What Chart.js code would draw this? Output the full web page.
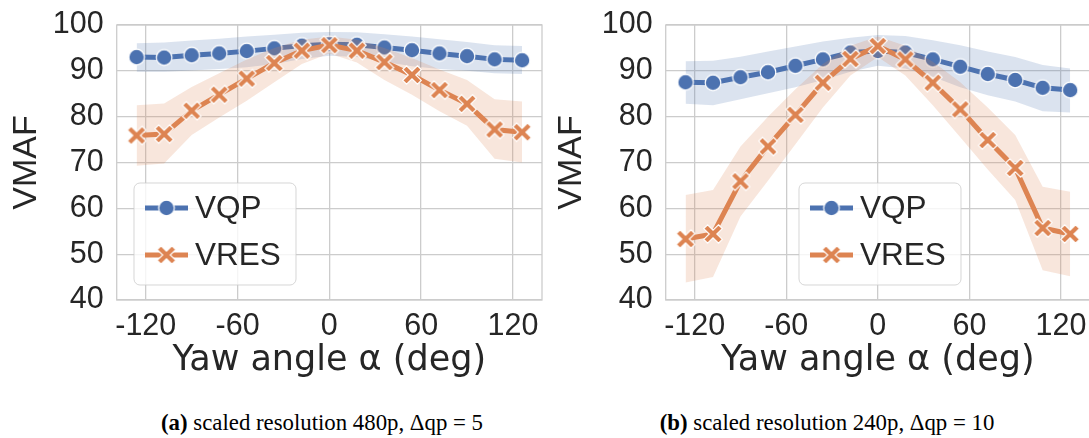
<!DOCTYPE html>
<html>
<head>
<meta charset="utf-8">
<script src="https://cdn.jsdelivr.net/npm/chart.js@4.4.0/dist/chart.umd.min.js"></script>
<style>
  html, body { margin: 0; padding: 0; background: #fff; overflow: hidden; }
  #wrap { position: relative; width: 1089px; height: 438px; overflow: hidden; }
  .panel { position: absolute; top: 0; }
  .cap { position: absolute; top: 410px; font-family: "Liberation Serif", "DejaVu Serif", serif;
         font-size: 22.8px; color: #000; white-space: nowrap; transform: translateX(-50%); }
  .cap b { font-weight: bold; }
</style>
</head>
<body>
<div id="wrap">
  <canvas id="chartA" class="panel" width="556" height="400" style="left:0px"></canvas>
  <canvas id="chartB" class="panel" width="559" height="400" style="left:545px"></canvas>
  <div class="cap" style="left:322px"><b>(a)</b> scaled resolution 480p, Δqp = 5</div>
  <div class="cap" style="left:827px"><b>(b)</b> scaled resolution 240p, Δqp = 10</div>
</div>
<script>
// yaw angles (deg)
const yaw = [-126, -108, -90, -72, -54, -36, -18, 0, 18, 36, 54, 72, 90, 108, 126];
const xTicks = [-120, -60, 0, 60, 120];
const yTicks = [40, 50, 60, 70, 80, 90, 100];

// (a) 480p, dqp = 5
const vqpA      = [93.0, 92.9, 93.4, 93.8, 94.3, 94.9, 95.5, 95.8, 95.7, 95.1, 94.5, 93.8, 93.2, 92.5, 92.3];
const vqpALow   = [89.8, 89.8, 90.1, 90.4, 90.8, 91.5, 92.6, 93.3, 93.0, 92.0, 91.0, 90.4, 90.0, 89.5, 89.3];
const vqpAHigh  = [96.0, 96.2, 96.6, 97.0, 97.5, 97.9, 98.3, 98.5, 98.4, 98.0, 97.5, 96.9, 96.3, 95.6, 95.4];
const vresA     = [75.9, 76.2, 81.3, 84.8, 88.3, 91.7, 94.4, 95.6, 94.4, 91.9, 89.1, 85.8, 82.8, 77.2, 76.6];
const vresALow  = [69.3, 69.8, 76.0, 79.8, 83.5, 87.5, 91.5, 93.8, 91.8, 88.0, 84.8, 81.2, 78.0, 70.8, 70.0];
const vresAHigh = [82.5, 82.9, 86.5, 89.5, 92.5, 95.0, 96.8, 97.5, 96.8, 95.0, 92.8, 90.3, 88.0, 83.8, 83.3];

// (b) 240p, dqp = 10
const vqpB      = [87.5, 87.4, 88.6, 89.7, 91.1, 92.5, 94.0, 94.3, 94.0, 92.5, 90.9, 89.3, 88.0, 86.3, 85.8];
const vqpBLow   = [82.8, 82.5, 83.8, 85.1, 86.4, 88.0, 89.8, 91.1, 90.5, 88.7, 86.4, 84.7, 83.3, 81.2, 80.9];
const vqpBHigh  = [92.1, 92.2, 93.1, 94.2, 95.3, 96.4, 97.2, 97.8, 97.6, 96.7, 95.6, 94.2, 93.0, 91.3, 90.5];
const vresB     = [53.3, 54.4, 65.9, 73.5, 80.4, 87.4, 92.6, 95.4, 92.5, 87.4, 81.6, 74.9, 68.8, 55.7, 54.4];
const vresBLow  = [43.8, 45.0, 58.2, 66.0, 74.0, 82.0, 89.0, 93.0, 89.0, 82.5, 75.5, 68.5, 61.8, 46.5, 45.2];
const vresBHigh = [62.9, 64.0, 73.5, 80.0, 86.0, 91.5, 95.5, 97.5, 95.5, 92.0, 87.5, 82.0, 76.0, 64.7, 63.6];

const BLUE = "#4C72B0";
const ORANGE = "#DD8452";
const INK = "#262626";
const GRID = "#cccccc";
const CLEAR = "rgba(0,0,0,0)";

// marker images, white edged like seaborn
function circleMarker(color) {
  const c = document.createElement("canvas");
  c.width = 20; c.height = 20;
  const g = c.getContext("2d");
  g.beginPath();
  g.arc(10, 10, 7.8, 0, Math.PI * 2);
  g.fillStyle = color; g.fill();
  g.lineWidth = 1.2; g.strokeStyle = "#fff"; g.stroke();
  return c;
}
function xMarker(color) {
  const c = document.createElement("canvas");
  c.width = 22; c.height = 22;
  const g = c.getContext("2d");
  const w = 2.7; // half arm width
  const r = 10.4; // arm reach
  g.translate(11, 11);
  g.rotate(Math.PI / 4);
  g.beginPath();
  g.moveTo(-w, -r); g.lineTo(w, -r); g.lineTo(w, -w); g.lineTo(r, -w); g.lineTo(r, w);
  g.lineTo(w, w); g.lineTo(w, r); g.lineTo(-w, r); g.lineTo(-w, w); g.lineTo(-r, w);
  g.lineTo(-r, -w); g.lineTo(-w, -w); g.closePath();
  g.fillStyle = color; g.fill();
  g.lineWidth = 1.2; g.strokeStyle = "#fff"; g.stroke();
  return c;
}
const dotBlue = circleMarker(BLUE);
const crossOrange = xMarker(ORANGE);

const pts = (arr) => arr.map((v, i) => ({ x: yaw[i], y: v }));

// frame + legend drawn inside the plot area
const framePlugin = {
  id: "frame",
  afterDraw(chart, args, opts) {
    const { ctx, chartArea: a } = chart;
    ctx.save();
    ctx.strokeStyle = GRID;
    ctx.lineWidth = 1.3;
    ctx.strokeRect(a.left, a.top, a.right - a.left, a.bottom - a.top);

    // legend box
    const bx = opts.legendX, by = 183, bw = 162, bh = 102, r = 6;
    ctx.beginPath();
    ctx.roundRect(bx, by, bw, bh, r);
    ctx.fillStyle = "rgba(255,255,255,0.8)";
    ctx.fill();
    ctx.strokeStyle = "rgba(204,204,204,0.8)";
    ctx.lineWidth = 1;
    ctx.stroke();

    const rows = [
      { label: "VQP", color: BLUE, img: dotBlue, y: by + 25 },
      { label: "VRES", color: ORANGE, img: crossOrange, y: by + 72 }
    ];
    rows.forEach((row) => {
      ctx.beginPath();
      ctx.moveTo(bx + 11, row.y);
      ctx.lineTo(bx + 54, row.y);
      ctx.strokeStyle = row.color;
      ctx.lineWidth = 5;
      ctx.stroke();
      ctx.drawImage(row.img, bx + 32.5 - row.img.width / 2, row.y - row.img.height / 2);
      ctx.fillStyle = INK;
      ctx.font = "31.5px 'Liberation Sans', Arial, sans-serif";
      ctx.textBaseline = "middle";
      ctx.textAlign = "left";
      ctx.fillText(row.label, bx + 61, row.y + 1);
    });
    ctx.restore();
  }
};

function makeChart(id, d, yAxisWidth, rightPad, legendX) {
  const datasets = [
    { data: pts(d.vresLow), borderWidth: 0, pointRadius: 0, fill: false, order: 5 },
    { data: pts(d.vresHigh), borderWidth: 0, pointRadius: 0, fill: "-1",
      backgroundColor: "rgba(221,132,82,0.2)", order: 1 },
    { label: "VRES", data: pts(d.vres), borderColor: ORANGE, borderWidth: 5,
      pointStyle: crossOrange, pointRadius: 9, fill: false, order: 0 },
    { data: pts(d.vqpLow), borderWidth: 0, pointRadius: 0, fill: false, order: 5 },
    { data: pts(d.vqpHigh), borderWidth: 0, pointRadius: 0, fill: "-1",
      backgroundColor: "rgba(76,114,176,0.2)", order: 3 },
    { label: "VQP", data: pts(d.vqp), borderColor: BLUE, borderWidth: 5,
      pointStyle: dotBlue, pointRadius: 9, fill: false, order: 2 }
  ];

  return new Chart(document.getElementById(id).getContext("2d"), {
    type: "line",
    data: { datasets: datasets },
    options: {
      responsive: false,
      animation: false,
      devicePixelRatio: 1,
      layout: { padding: { top: 25, right: rightPad, bottom: 0, left: 0 } },
      elements: { line: { tension: 0 } },
      plugins: {
        legend: { display: false },
        tooltip: { enabled: false },
        frame: { legendX: legendX }
      },
      scales: {
        x: {
          type: "linear",
          min: -139,
          max: 139,
          afterBuildTicks: (s) => { s.ticks = xTicks.map((v) => ({ value: v })); },
          afterFit: (s) => { s.height = 100; },
          grid: { color: GRID, lineWidth: 1.3, drawTicks: true, tickLength: 8, tickColor: CLEAR },
          border: { display: false },
          ticks: {
            color: INK, padding: 0, maxRotation: 0, autoSkip: false,
            font: { family: "'Liberation Sans', Arial, sans-serif", size: 30.5 }
          },
          title: {
            display: true, text: "Yaw angle α (deg)", color: INK,
            padding: { top: 0, bottom: 18 },
            font: { family: "'DejaVu Sans', sans-serif", size: 35 }
          }
        },
        y: {
          min: 40,
          max: 100,
          afterBuildTicks: (s) => { s.ticks = yTicks.map((v) => ({ value: v })); },
          afterFit: (s) => { s.width = yAxisWidth; s.paddingTop = 0; s.paddingBottom = 0; },
          grid: { color: GRID, lineWidth: 1.3, drawTicks: true, tickLength: 8, tickColor: CLEAR },
          border: { display: false },
          ticks: {
            color: INK, padding: 5,
            font: { family: "'Liberation Sans', Arial, sans-serif", size: 30.5 }
          },
          title: {
            display: true, text: "VMAF", color: INK,
            padding: { top: 6, bottom: 0 },
            font: { family: "'Liberation Sans', Arial, sans-serif", size: 34 }
          }
        }
      }
    },
    plugins: [framePlugin]
  });
}

makeChart("chartA", {
  vqp: vqpA, vqpLow: vqpALow, vqpHigh: vqpAHigh,
  vres: vresA, vresLow: vresALow, vresHigh: vresAHigh
}, 116.7, 3.3, 134);

makeChart("chartB", {
  vqp: vqpB, vqpLow: vqpBLow, vqpHigh: vqpBHigh,
  vres: vresB, vresLow: vresBLow, vresHigh: vresBHigh
}, 120.7, 2.7, 254);
</script>
</body>
</html>
